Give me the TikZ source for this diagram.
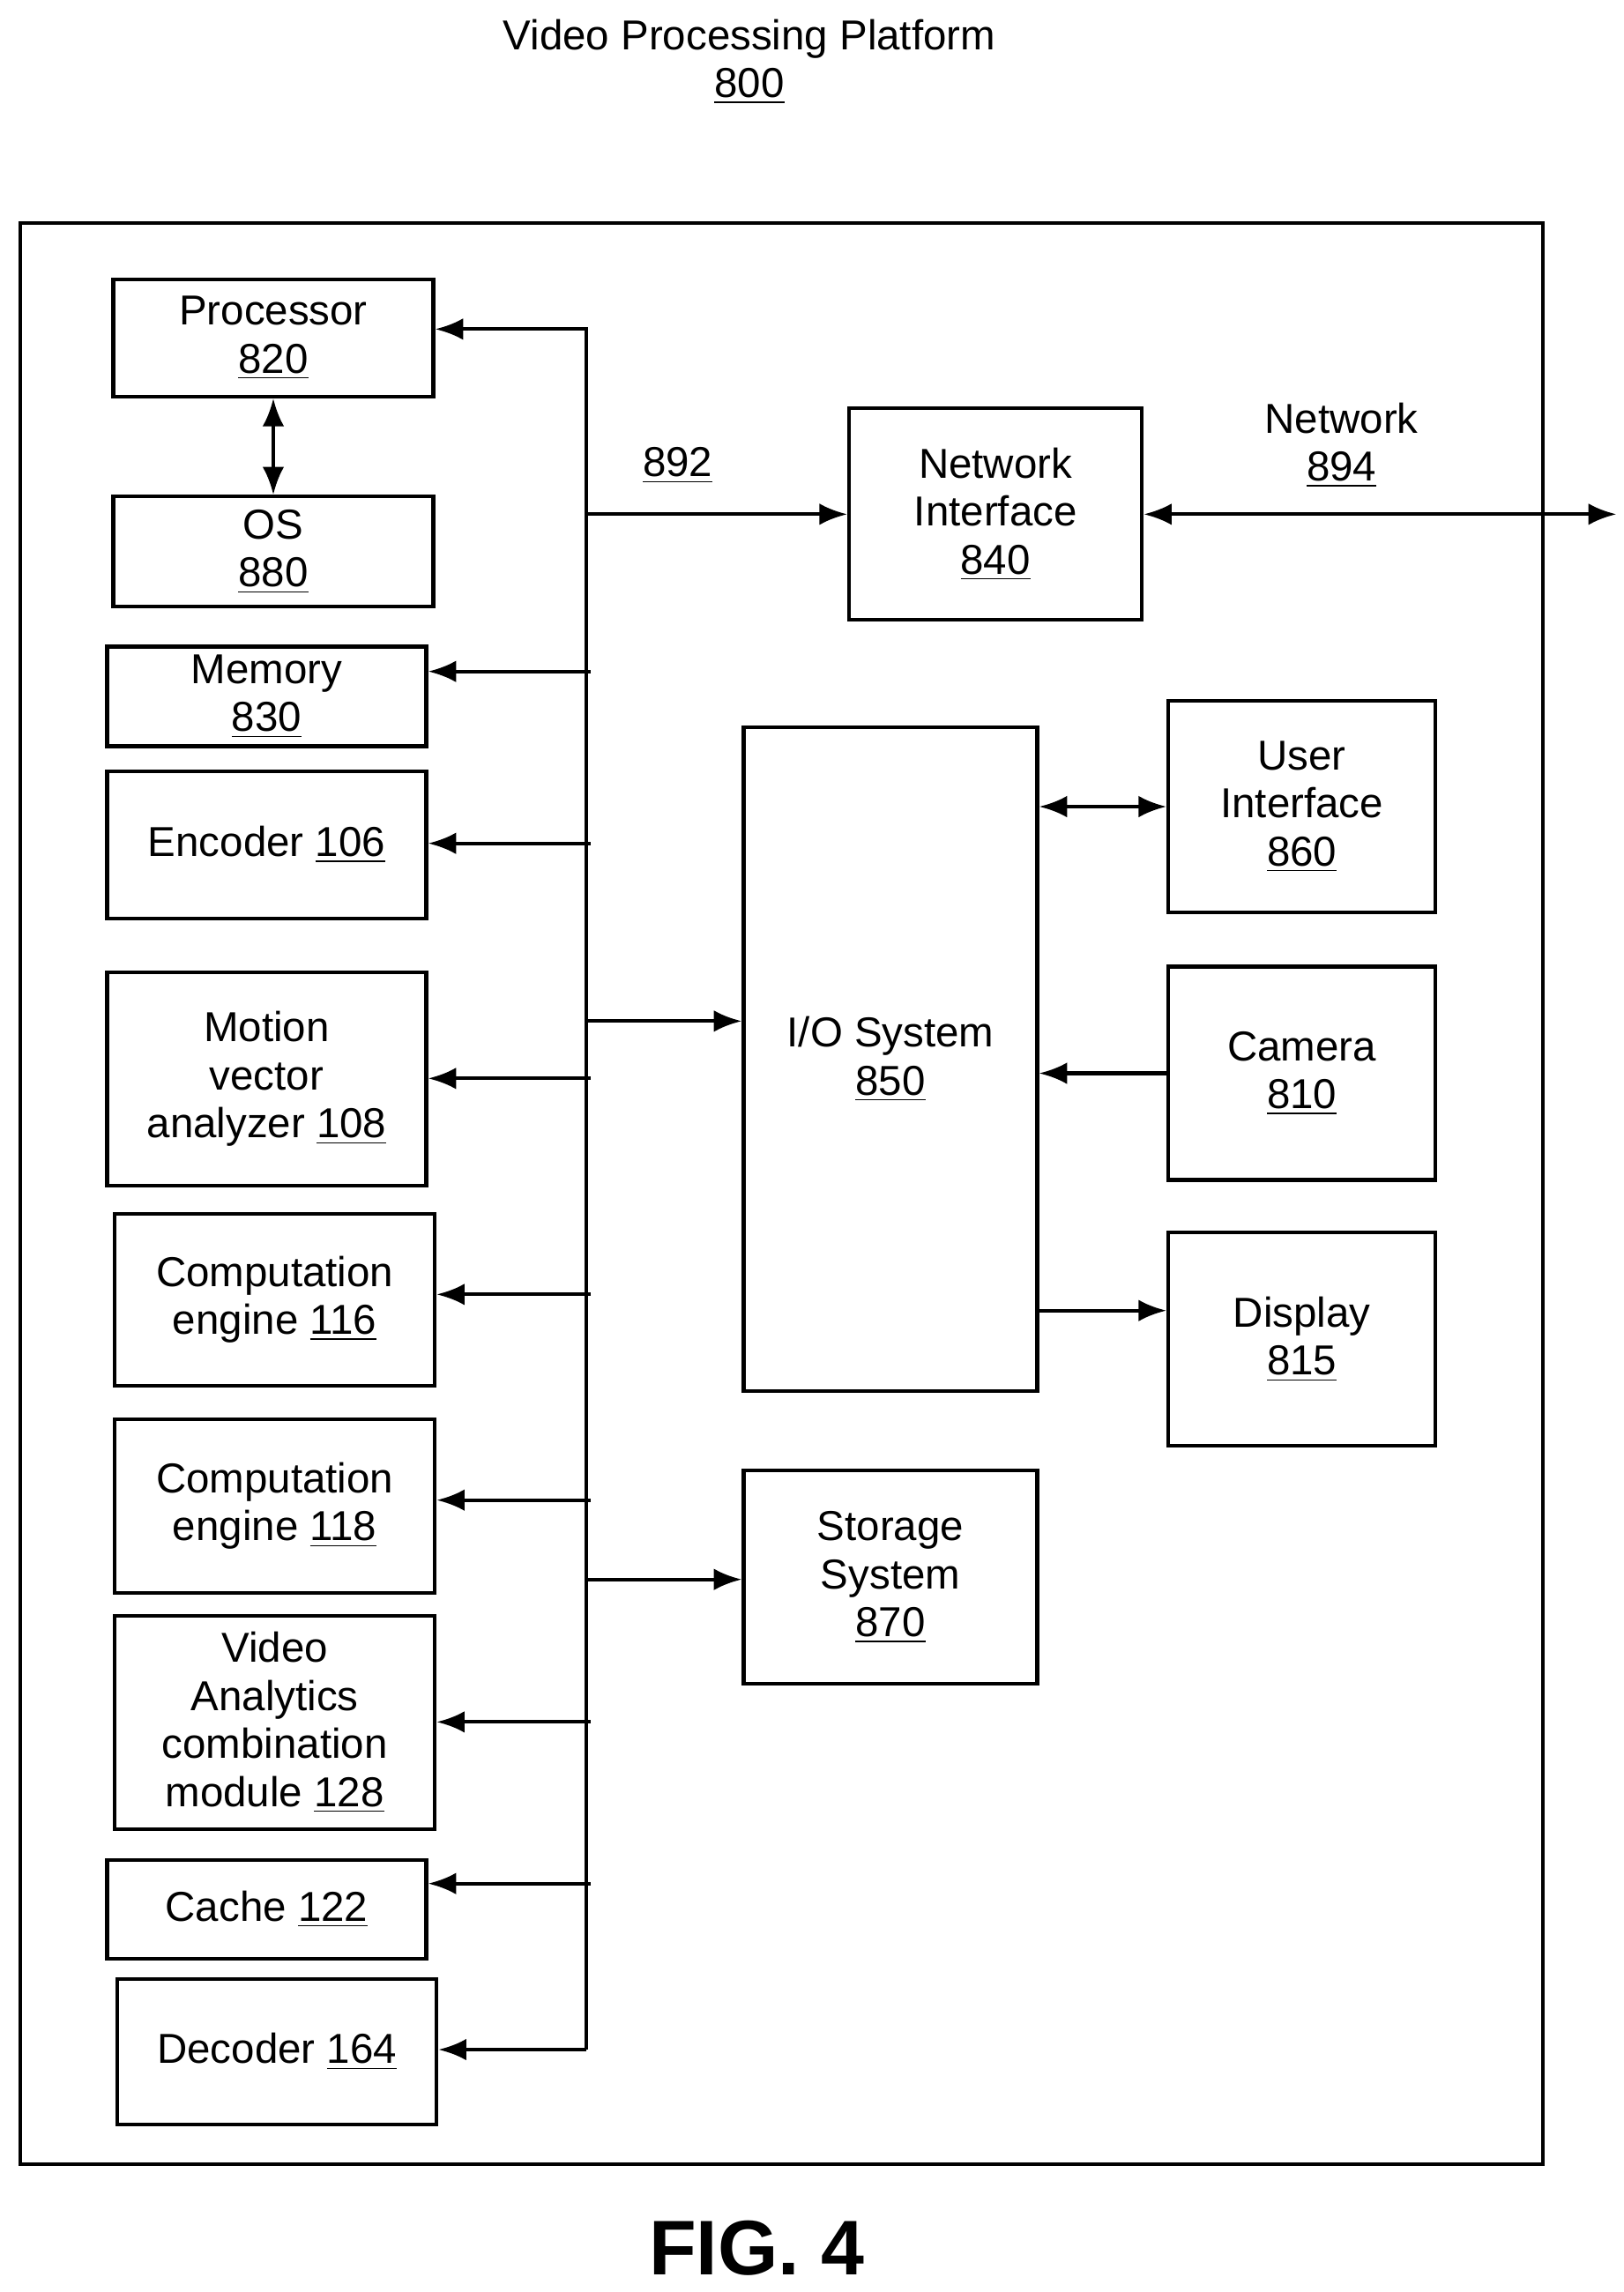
\documentclass[tikz,border=0pt]{standalone}
\usepackage{fontspec}
\setmainfont{Liberation Sans}
\usetikzlibrary{arrows.meta}
\begin{document}
\begin{tikzpicture}[
    x=0.016667cm, y=-0.016667cm,
    line width=1.2pt,
    box/.style={rectangle, draw, align=center, inner sep=1pt, font=\fontsize{13.5}{15.5}\selectfont},
    lbl/.style={align=center, font=\fontsize{13.5}{15.5}\selectfont},
    arrow/.style={-{Latex[length=9pt,width=7pt]}},
    darrow/.style={{Latex[length=9pt,width=7pt]}-{Latex[length=9pt,width=7pt]}}
]
\useasboundingbox (0,0) rectangle (1105,1560);

% Title
\node[lbl] (title) at (510,42) {Video Processing Platform\\\underline{800}};
\draw (14,152) rectangle (1050,1473);

% Left column
\node[box, minimum width=3.63cm, minimum height=1.33cm] (proc) at (186,230) {Processor\\\underline{820}};
\node[box, minimum width=3.63cm, minimum height=1.25cm] (os) at (186,375.5) {OS\\\underline{880}};
\node[box, minimum width=3.62cm, minimum height=1.13cm] (mem) at (181.5,474) {Memory\\\underline{830}};
\node[box, minimum width=3.62cm, minimum height=1.67cm] (enc) at (181.5,575) {Encoder \underline{106}};
\node[box, minimum width=3.62cm, minimum height=2.42cm] (mva) at (181.5,734.5) {Motion\\vector\\analyzer \underline{108}};
\node[box, minimum width=3.63cm, minimum height=1.95cm] (ce1) at (187,884.5) {Computation\\engine \underline{116}};
\node[box, minimum width=3.63cm, minimum height=1.97cm] (ce2) at (187,1025) {Computation\\engine \underline{118}};
\node[box, minimum width=3.63cm, minimum height=2.42cm] (vac) at (187,1172.5) {Video\\Analytics\\combination\\module \underline{128}};
\node[box, minimum width=3.62cm, minimum height=1.12cm] (cache) at (181.5,1299.5) {Cache \underline{122}};
\node[box, minimum width=3.62cm, minimum height=1.65cm] (dec) at (188.5,1396.5) {Decoder \underline{164}};

% Right side
\node[box, minimum width=3.32cm, minimum height=2.4cm] (ni) at (677.5,350) {Network\\Interface\\\underline{840}};
\node[box, minimum width=3.33cm, minimum height=7.53cm] (io) at (606,721) {I/O System\\\underline{850}};
\node[box, minimum width=3.03cm, minimum height=2.4cm] (ui) at (886,549) {User\\Interface\\\underline{860}};
\node[box, minimum width=3.03cm, minimum height=2.42cm] (cam) at (886,730.5) {Camera\\\underline{810}};
\node[box, minimum width=3.03cm, minimum height=2.42cm] (disp) at (886,911.5) {Display\\\underline{815}};
\node[box, minimum width=3.33cm, minimum height=2.42cm] (sto) at (606,1073.5) {Storage\\System\\\underline{870}};

% Bus
\coordinate (btop) at (399,224);
\coordinate (bbot) at (399,1395);
\coordinate (net) at (1100,350);
\draw[arrow] (bbot) -- (btop) -- (proc.east |- btop);
\draw[arrow] (bbot) -- (dec.east |- bbot);
\draw[darrow] (proc) -- (os);
\foreach \n/\yy in {mem/457, enc/574, mva/734, ce1/881, ce2/1021, vac/1172, cache/1282}
  \draw[arrow] (402,\yy) -- (\n.east |- 0,\yy);
\draw[arrow] (399,350) -- (ni.west) node[lbl, pos=0.35, above=6pt] {\underline{892}};
\draw[arrow] (399,695) -- (io.west |- 0,695);
\draw[arrow] (399,1075) -- (sto.west |- 0,1075);
\draw[darrow] (ni.east) -- (net);
\node[lbl] (netlbl) at (913,303) {Network\\\underline{894}};

% I/O devices
\draw[darrow] (io.east |- ui.west) -- (ui.west);
\draw[arrow] (cam.west) -- (io.east |- cam.west);
\draw[arrow] (io.east |- 0,892) -- (disp.west |- 0,892);

\node[font=\fontsize{25}{28}\selectfont\bfseries] (fig) at (515,1530) {FIG. 4};
\end{tikzpicture}
\end{document}
